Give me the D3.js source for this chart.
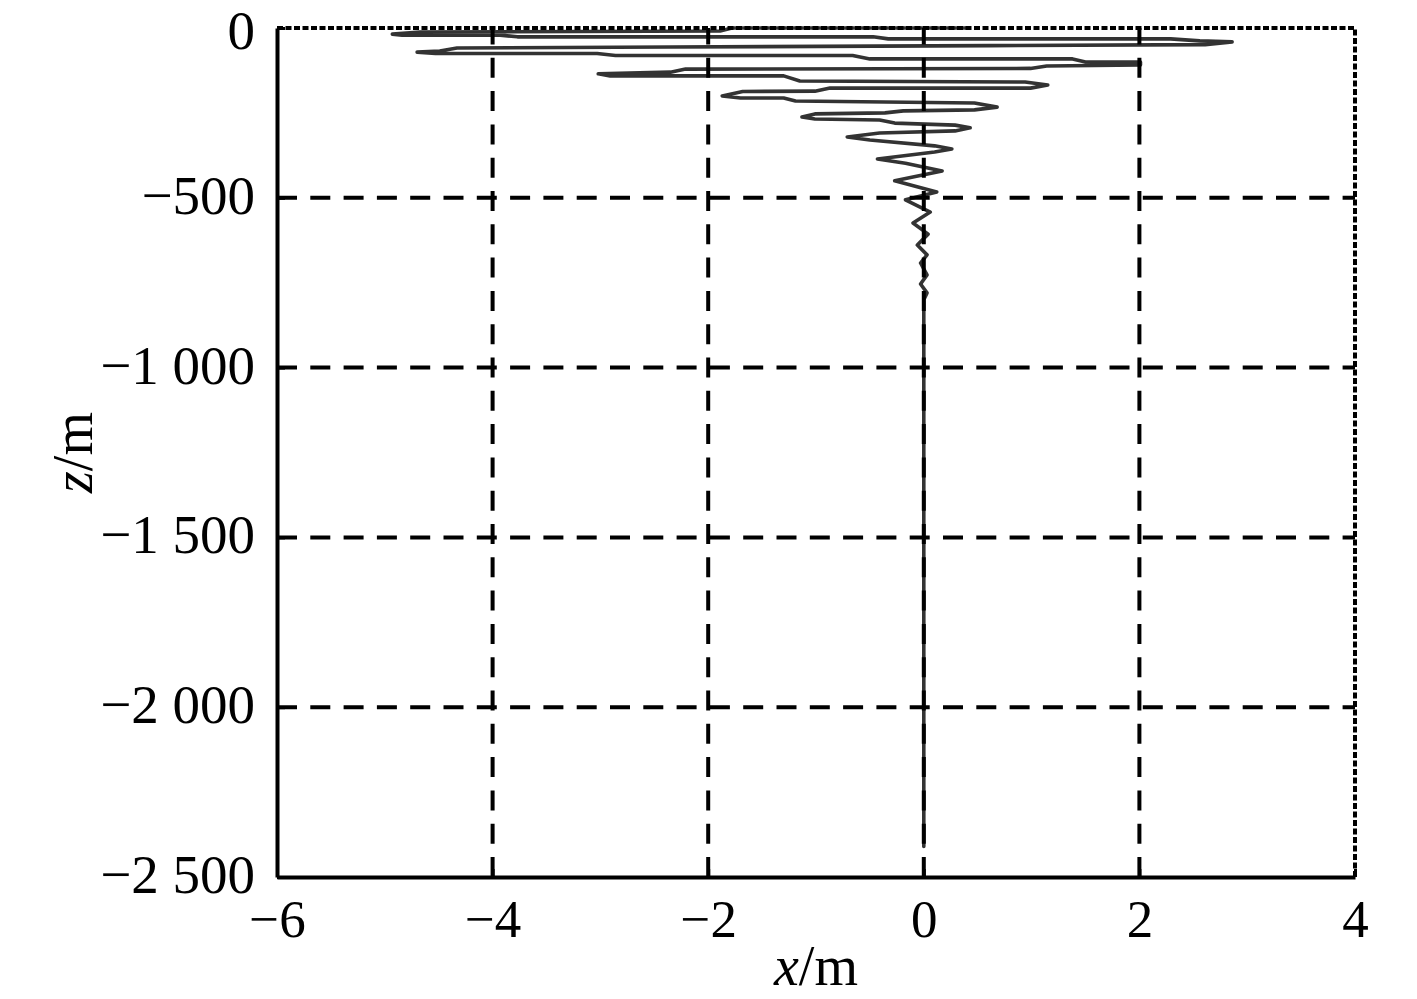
<!DOCTYPE html>
<html>
<head>
<meta charset="utf-8">
<script src="https://cdn.jsdelivr.net/npm/d3@7"></script>
<style>
  html, body { margin: 0; padding: 0; background: #fff; }
  svg { display: block; }
  text { font-family: "Liberation Serif", "Times New Roman", serif; }
</style>
</head>
<body>
<svg id="chart" width="1417" height="999"></svg>
<script>
// ---- data ----
const xValues = [0.40,-1.78,-1.89,-4.67,-4.93,-4.84,-3.93,-3.77,-0.47,-0.33,2.29,2.56,2.86,2.61,0.61,-2.35,-4.33,-4.49,-4.70,-4.53,-3.03,-2.86,-0.66,-0.50,1.38,1.50,2.01,2.01,1.14,0.99,-2.21,-2.35,-3.02,-2.91,-1.30,-1.15,0.94,1.15,0.99,-0.87,-1.01,-1.68,-1.87,-1.70,-1.30,-1.19,0.47,0.68,0.47,-0.19,-0.36,-1.01,-1.13,-1.01,-0.41,-0.27,0.29,0.43,0.29,-0.41,-0.71,-0.50,0.10,0.26,0.10,-0.43,-0.17,0.17,-0.27,0.12,-0.17,0.06,-0.10,0.04,-0.06,0.03,-0.03,0.03,-0.03,0.03,0.00,0.00];
const zValues = [0,0,-9,-12,-18,-21,-21,-26,-26,-32,-32,-38,-41,-49,-52,-56,-59,-68,-71,-75,-75,-81,-81,-91,-91,-100,-100,-109,-112,-119,-121,-130,-135,-141,-141,-156,-159,-168,-177,-177,-186,-187,-200,-206,-206,-215,-221,-233,-241,-244,-250,-253,-262,-268,-271,-280,-286,-294,-303,-309,-321,-330,-347,-356,-365,-386,-398,-421,-450,-483,-506,-542,-574,-607,-639,-668,-692,-727,-754,-780,-800,-2410];
const xTicks = [-6,-4,-2,0,2,4];
const xTickLabels = ["\u22126","\u22124","\u22122","0","2","4"];
const zTicks = [0,-500,-1000,-1500,-2000,-2500];
const zTickLabels = ["0","\u2212500","\u22121 000","\u22121 500","\u22122 000","\u22122 500"];
const xGrid = [-4,-2,0,2];
const zGrid = [-500,-1000,-1500,-2000];

// ---- layout ----
const mL = 277, mR = 1355, mT = 28, mB = 877;
const svg = d3.select("#chart");
const x = d3.scaleLinear().domain([-6,4]).range([mL,mR]);
const y = d3.scaleLinear().domain([-2500,0]).range([mB,mT]);

const pts = xValues.map((v,i)=>[v, zValues[i]]);

// data line
svg.append("path")
  .datum(pts)
  .attr("fill","none")
  .attr("stroke","#333")
  .attr("stroke-width",3.6)
  .attr("stroke-linejoin","round")
  .attr("stroke-linecap","round")
  .attr("d", d3.line().x(d=>x(d[0])).y(d=>y(d[1])));

// grid lines (drawn on top like the reference)
const grid = svg.append("g").attr("stroke","#000").attr("stroke-width",4).attr("stroke-dasharray","20,13.3");
grid.selectAll("line.v").data(xGrid).join("line").attr("class","v")
  .attr("x1",d=>x(d)).attr("x2",d=>x(d)).attr("y1",mB).attr("y2",mT);
grid.selectAll("line.h").data(zGrid).join("line").attr("class","h")
  .attr("x1",mL).attr("x2",mR).attr("y1",d=>y(d)).attr("y2",d=>y(d));

// dotted top & right border
svg.append("path")
  .attr("d", `M${mL},${mT}H${mR}V${mB}`)
  .attr("fill","none").attr("stroke","#000").attr("stroke-width",4)
  .attr("stroke-dasharray","6,2.5");

// axes
const xAxis = d3.axisBottom(x).tickValues(xTicks)
  .tickFormat((d,i)=>xTickLabels[i]).tickSizeInner(-8).tickSizeOuter(0).tickPadding(22);
const gx = svg.append("g").attr("transform",`translate(0,${mB})`).call(xAxis);
gx.select(".domain").attr("stroke","#000").attr("stroke-width",4);
gx.selectAll(".tick line").attr("stroke","#000").attr("stroke-width",3);
gx.selectAll("text").attr("font-size",53).attr("fill","#000")
  .attr("font-family","'Liberation Serif', serif");

const yAxis = d3.axisLeft(y).tickValues(zTicks)
  .tickFormat((d,i)=>zTickLabels[i]).tickSizeInner(-8).tickSizeOuter(0).tickPadding(22);
const gy = svg.append("g").attr("transform",`translate(${mL},0)`).call(yAxis);
gy.select(".domain").attr("stroke","#000").attr("stroke-width",4);
gy.selectAll(".tick line").attr("stroke","#000").attr("stroke-width",3);
gy.selectAll("text").attr("font-size",55).attr("fill","#000")
  .attr("font-family","'Liberation Serif', serif")
  .attr("dy",d=> d===0 ? "0.38em" : "0.28em");

// axis titles
const xt = svg.append("text").attr("x",(mL+mR)/2).attr("y",985)
  .attr("text-anchor","middle").attr("font-size",56);
xt.append("tspan").attr("font-style","italic").text("x");
xt.append("tspan").text("/m");

const yt = svg.append("text").attr("transform",`translate(92,${(mT+mB)/2}) rotate(-90)`)
  .attr("text-anchor","middle").attr("font-size",56);
yt.append("tspan").attr("font-style","italic").text("z");
yt.append("tspan").text("/m");
</script>
</body>
</html>
